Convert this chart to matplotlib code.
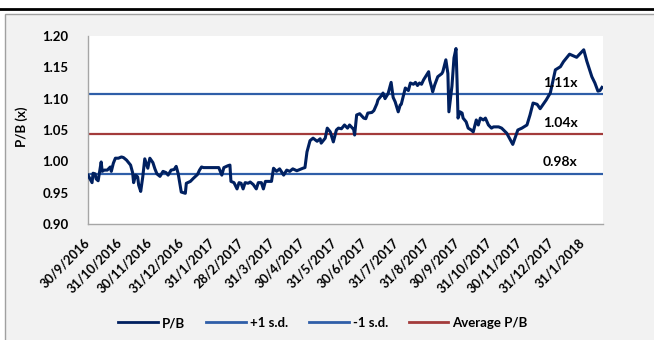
import matplotlib
matplotlib.use("Agg")
import matplotlib.pyplot as plt
import matplotlib.transforms as mtransforms
from matplotlib.patches import Rectangle
from matplotlib.lines import Line2D
import pandas as pd

plt.rcParams['font.family'] = ['Lato', 'DejaVu Sans']
plt.rcParams['font.weight'] = 'bold'

# ---- data -------------------------------------------------------------
dates = [
    "2016-09-30", "2016-10-02", "2016-10-04", "2016-10-05", "2016-10-07", "2016-10-08", "2016-10-10", "2016-10-13",
    "2016-10-14", "2016-10-16", "2016-10-19", "2016-10-22", "2016-10-23", "2016-10-25", "2016-10-27", "2016-10-30",
    "2016-11-02", "2016-11-04", "2016-11-07", "2016-11-09", "2016-11-11", "2016-11-13", "2016-11-14", "2016-11-16",
    "2016-11-18", "2016-11-19", "2016-11-21", "2016-11-23", "2016-11-25", "2016-11-28", "2016-11-30",
    "2016-12-03", "2016-12-05", "2016-12-07", "2016-12-10", "2016-12-13", "2016-12-16", "2016-12-18", "2016-12-21",
    "2016-12-24", "2016-12-26", "2016-12-28", "2016-12-31",
    "2017-01-02", "2017-01-04", "2017-01-05", "2017-01-09", "2017-01-12", "2017-01-14", "2017-01-16", "2017-01-18",
    "2017-01-20", "2017-01-22", "2017-01-26", "2017-01-30",
    "2017-02-03", "2017-02-06", "2017-02-09", "2017-02-11", "2017-02-15", "2017-02-17", "2017-02-18", "2017-02-21",
    "2017-02-24", "2017-02-26", "2017-02-28",
    "2017-03-02", "2017-03-04", "2017-03-07", "2017-03-09", "2017-03-12", "2017-03-15", "2017-03-17", "2017-03-20",
    "2017-03-22", "2017-03-24", "2017-03-27", "2017-03-30",
    "2017-04-01", "2017-04-04", "2017-04-07", "2017-04-11", "2017-04-14", "2017-04-17", "2017-04-20", "2017-04-24",
    "2017-04-27", "2017-04-30",
    "2017-05-02", "2017-05-04", "2017-05-07", "2017-05-10", "2017-05-14", "2017-05-17", "2017-05-18", "2017-05-22",
    "2017-05-24", "2017-05-27", "2017-05-30",
    "2017-06-02", "2017-06-04", "2017-06-07", "2017-06-10", "2017-06-13", "2017-06-15", "2017-06-19", "2017-06-20",
    "2017-06-22", "2017-06-25", "2017-06-29",
    "2017-07-01", "2017-07-03", "2017-07-07", "2017-07-09", "2017-07-12", "2017-07-13", "2017-07-17", "2017-07-18",
    "2017-07-20", "2017-07-23", "2017-07-26", "2017-07-28", "2017-07-30",
    "2017-08-02", "2017-08-04", "2017-08-05", "2017-08-09", "2017-08-12", "2017-08-14", "2017-08-17", "2017-08-19",
    "2017-08-21", "2017-08-23", "2017-08-25", "2017-08-27", "2017-08-30",
    "2017-09-01", "2017-09-02", "2017-09-04", "2017-09-05", "2017-09-07", "2017-09-10", "2017-09-14", "2017-09-15",
    "2017-09-18", "2017-09-20", "2017-09-21", "2017-09-24", "2017-09-26", "2017-09-28", "2017-09-29", "2017-09-30",
    "2017-10-02", "2017-10-04", "2017-10-05", "2017-10-08", "2017-10-10", "2017-10-13", "2017-10-15", "2017-10-18",
    "2017-10-20", "2017-10-22", "2017-10-25", "2017-10-27", "2017-10-30",
    "2017-11-02", "2017-11-04", "2017-11-09", "2017-11-12", "2017-11-17", "2017-11-23", "2017-11-28",
    "2017-12-02", "2017-12-07", "2017-12-10", "2017-12-13", "2017-12-17", "2017-12-20", "2017-12-26", "2017-12-30",
    "2018-01-04", "2018-01-09", "2018-01-12", "2018-01-18", "2018-01-25",
    "2018-02-01", "2018-02-04", "2018-02-09", "2018-02-12", "2018-02-15", "2018-02-17", "2018-02-19",
]

pb = [
    0.978, 0.972, 0.966, 0.981, 0.980, 0.972, 0.969, 0.999,
    0.984, 0.986, 0.986, 0.991, 0.984, 0.997, 1.005, 1.005,
    1.007, 1.006, 1.002, 0.998, 0.994, 0.982, 0.966, 0.978,
    0.975, 0.962, 0.952, 0.975, 1.004, 0.989, 1.005,
    0.998, 0.988, 0.980, 0.976, 0.984, 0.982, 0.978, 0.986,
    0.987, 0.992, 0.980, 0.951,
    0.950, 0.949, 0.965, 0.968, 0.973, 0.976, 0.979, 0.986,
    0.991, 0.990, 0.990, 0.990,
    0.990, 0.990, 0.978, 0.990, 0.993, 0.994, 0.968, 0.966,
    0.956, 0.966, 0.965,
    0.956, 0.966, 0.965, 0.967, 0.963, 0.956, 0.966, 0.966,
    0.956, 0.968, 0.968, 0.968,
    0.989, 0.984, 0.988, 0.978, 0.986, 0.984, 0.988, 0.985,
    0.987, 0.989,
    0.990, 1.015, 1.033, 1.037, 1.032, 1.036, 1.029, 1.037,
    1.053, 1.047, 1.031,
    1.050, 1.053, 1.052, 1.058, 1.053, 1.058, 1.051, 1.042,
    1.074, 1.076, 1.069,
    1.068, 1.077, 1.078, 1.081, 1.092, 1.098, 1.106, 1.109,
    1.100, 1.108, 1.126, 1.102, 1.095,
    1.079, 1.090, 1.091, 1.117, 1.113, 1.125, 1.123, 1.126,
    1.121, 1.125, 1.123, 1.130, 1.138,
    1.143, 1.130, 1.118, 1.111, 1.122, 1.135, 1.140, 1.143,
    1.162, 1.140, 1.079, 1.120, 1.165, 1.180, 1.130, 1.069,
    1.079, 1.077, 1.069, 1.063, 1.053, 1.050, 1.047, 1.066,
    1.058, 1.069, 1.066, 1.069, 1.058,
    1.053, 1.055, 1.055, 1.053, 1.045, 1.027, 1.050,
    1.053, 1.058, 1.074, 1.093, 1.091, 1.084, 1.098, 1.109,
    1.146, 1.151, 1.159, 1.171, 1.166,
    1.178, 1.160, 1.135, 1.125, 1.112, 1.113, 1.118,
]

average_pb = 1.0435
std_dev = 0.0636
plus_sd = average_pb + std_dev
minus_sd = average_pb - std_dev

tick_dates = pd.date_range("2016-09-30", "2018-01-31", freq="ME")
tick_labels = [f"{d.day}/{d.month}/{d.year}" for d in tick_dates]

series_names = ["P/B", "+1 s.d.", "-1 s.d.", "Average P/B"]

# ---- styling ------------------------------------------------------------
C_PB = "#002060"
C_SD = "#2f5ea8"
C_AVG = "#a33b3b"
AXIS_GRAY = "#a6a6a6"

W, H = 654, 340
fig = plt.figure(figsize=(W / 100, H / 100), dpi=100)
fig.patch.set_facecolor("white")

# panel box and heading rule
fig.add_artist(Rectangle((4.5 / W, -0.05), 1.1, 1 - 13.5 / H + 0.05,
                         transform=fig.transFigure, facecolor="#f2f2f2",
                         edgecolor="#a0a0a0", lw=1.0, zorder=0))
fig.add_artist(Line2D([0, 1], [1 - 8.7 / H] * 2, transform=fig.transFigure,
                      color="black", lw=2.0, zorder=1))

ax = fig.add_axes([88 / W, 1 - 224 / H, 515 / W, 188 / H])
ax.set_facecolor("white")

x = pd.to_datetime(dates)
start, end = pd.Timestamp("2016-09-30"), pd.Timestamp("2018-02-20")

ax.plot([start, end], [plus_sd] * 2, color=C_SD, lw=1.6, zorder=2)
ax.plot([start, end], [minus_sd] * 2, color=C_SD, lw=1.6, zorder=2)
ax.plot([start, end], [average_pb] * 2, color=C_AVG, lw=1.6, zorder=2)
ax.plot(x, pb, color=C_PB, lw=2.2, zorder=3, solid_joinstyle="round")

ax.set_xlim(start, end)
ax.set_ylim(0.90, 1.20)
ax.set_yticks([0.90, 0.95, 1.00, 1.05, 1.10, 1.15, 1.20])
ax.set_yticklabels([f"{v:.2f}" for v in ax.get_yticks()])
ax.set_xticks(tick_dates)
ax.set_xticklabels(tick_labels, rotation=45, ha="right", va="center",
                   rotation_mode="anchor")

ax.tick_params(axis="y", length=0, pad=14, labelsize=9.5)
ax.tick_params(axis="x", length=0, pad=12, labelsize=9.2)

for side in ("top", "right"):
    ax.spines[side].set_visible(False)
for side in ("left", "bottom"):
    ax.spines[side].set_color(AXIS_GRAY)
    ax.spines[side].set_linewidth(1.0)

fig.text(22 / W, 1 - 127 / H, "P/B (x)", rotation=90, ha="center",
         va="center", fontsize=9.5, fontweight="bold")

# value tags over the reference lines
trans = mtransforms.blended_transform_factory(ax.transAxes, ax.transData)
for v in (plus_sd, average_pb, minus_sd):
    ax.annotate(f"{v:.2f}x", xy=(0.883, v), xycoords=trans,
                xytext=(0, 4), textcoords="offset points",
                ha="left", va="bottom", fontsize=10, fontweight="bold",
                color="black", zorder=4)

handles = [Line2D([], [], color=c, lw=2.0) for c in (C_PB, C_SD, C_SD, C_AVG)]
fig.legend(handles, series_names, loc="center", bbox_to_anchor=(0.494, 1 - 323 / H),
           ncol=4, frameon=False, handlelength=3.0,
           handletextpad=0.3, columnspacing=1.6,
           prop={"weight": "bold", "size": 9.5})

fig.savefig("out.png", dpi=100, facecolor=fig.get_facecolor())
